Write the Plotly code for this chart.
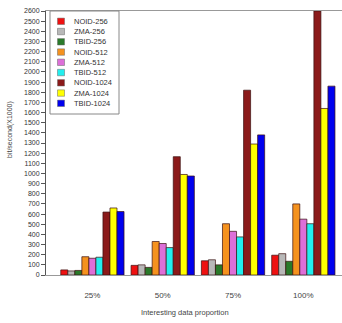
import plotly.graph_objects as go

categories = ["25%", "50%", "75%", "100%"]
series_names = ["NOID-256", "ZMA-256", "TBID-256", "NOID-512", "ZMA-512",
                "TBID-512", "NOID-1024", "ZMA-1024", "TBID-1024"]
noid_256 = [50, 95, 140, 195]
zma_256 = [40, 100, 150, 210]
tbid_256 = [45, 75, 100, 135]
noid_512 = [180, 330, 505, 700]
zma_512 = [165, 310, 430, 550]
tbid_512 = [175, 270, 375, 505]
noid_1024 = [620, 1165, 1820, 2600]
zma_1024 = [660, 990, 1290, 1640]
tbid_1024 = [625, 975, 1380, 1860]
y_ticks = list(range(0, 2700, 100))

series_values = [noid_256, zma_256, tbid_256, noid_512, zma_512, tbid_512,
                 noid_1024, zma_1024, tbid_1024]
colors = ["#ee1111", "#b8b8b8", "#2a7a2a", "#f5921e", "#dd6fd8",
          "#22eeee", "#8b1a1a", "#ffff00", "#0000ee"]

W, H = 342, 323
L, R, T, B = 46, 342, 11, 275  # plot area in pixels


def fx(p):
    return (p - L) / (R - L)


def fy(p):
    return (B - p) / (B - T)


fig = go.Figure()
for name, vals, col in zip(series_names, series_values, colors):
    fig.add_trace(go.Bar(
        x=list(range(len(categories))), y=vals, name=name,
        marker=dict(color=col, line=dict(color="#3a1010", width=0.7)),
        showlegend=False,
    ))

fig.update_layout(
    width=W, height=H,
    margin=dict(l=L, r=W - R, t=T, b=H - B, pad=0),
    paper_bgcolor="white", plot_bgcolor="white",
    barmode="group", bargap=0.1, bargroupgap=0,
    font=dict(family="Liberation Sans, Arial, sans-serif", size=7, color="#333"),
    xaxis=dict(
        tickmode="array", tickvals=list(range(len(categories))), ticktext=categories,
        range=[-0.66, 3.55], showgrid=False, zeroline=False,
        showline=True, linecolor="#999", linewidth=1, mirror=True,
        ticks="", tickfont=dict(size=8, color="#444"), ticklabelstandoff=12,
    ),
    yaxis=dict(
        range=[0, 2600], tickmode="array", tickvals=y_ticks,
        ticktext=[str(v) for v in y_ticks],
        showgrid=False, zeroline=False, showline=True, linecolor="#555", linewidth=1,
        ticks="outside", ticklen=4, tickcolor="#555", tickwidth=1,
        tickfont=dict(size=7, color="#333"),
    ),
)

annotations = [
    dict(text="Interesting data proportion", xref="paper", yref="paper",
         x=fx(185), y=fy(312), showarrow=False, font=dict(size=7.5, color="#444"),
         xanchor="center", yanchor="middle"),
    dict(text="bit/second(X1000)", xref="paper", yref="paper",
         x=fx(10), y=fy(130), showarrow=False, textangle=-90,
         font=dict(size=7, color="#444"), xanchor="center", yanchor="middle"),
]
shapes = [
    dict(type="rect", xref="paper", yref="paper",
         x0=fx(50), x1=fx(119), y0=fy(114), y1=fy(11),
         line=dict(color="#888", width=1), fillcolor="white", layer="above"),
]
row0, step = 21.3, 10.25
for i, (name, col) in enumerate(zip(series_names, colors)):
    yc = row0 + i * step
    shapes.append(dict(type="rect", xref="paper", yref="paper",
                       x0=fx(57.5), x1=fx(64.5), y0=fy(yc + 3.2), y1=fy(yc - 3.2),
                       line=dict(color="#666", width=0.5), fillcolor=col, layer="above"))
    annotations.append(dict(text=name, xref="paper", yref="paper",
                            x=fx(71.5), y=fy(yc), showarrow=False,
                            xanchor="left", yanchor="middle",
                            font=dict(size=7.5, color="#333")))

fig.update_layout(annotations=annotations, shapes=shapes)
fig.write_html("out.html", config={"displayModeBar": False},
               post_script="document.body.style.margin='0';")
